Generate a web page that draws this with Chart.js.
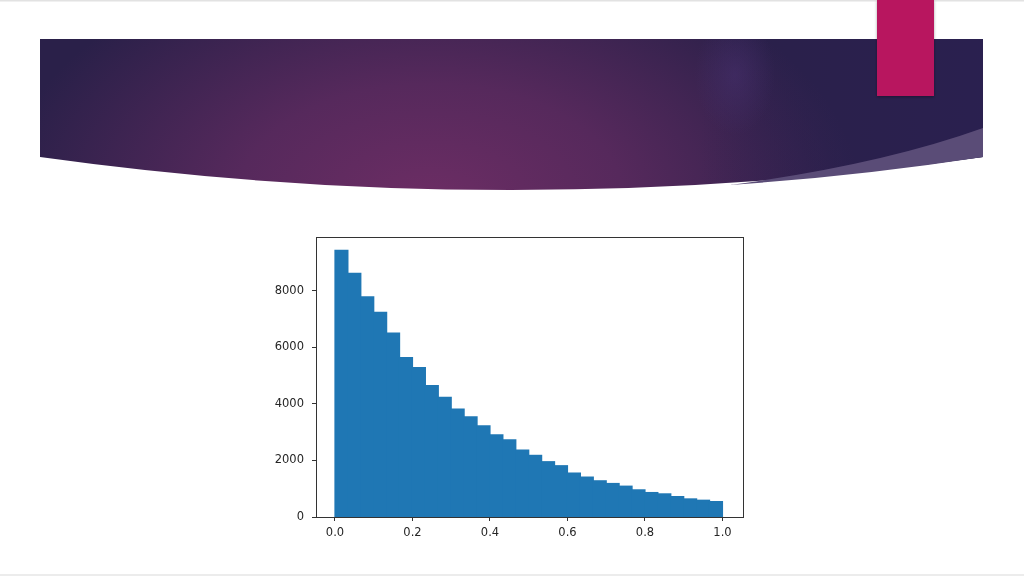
<!DOCTYPE html>
<html>
<head>
<meta charset="utf-8">
<script src="https://cdn.jsdelivr.net/npm/chart.js@4/dist/chart.umd.min.js"></script>
<style>
  html, body { margin:0; padding:0; background:#ffffff; }
  #slide { position:relative; width:1024px; height:576px; overflow:hidden; background:#fff; }
  #deco { position:absolute; left:0; top:0; }
  #wrap { position:absolute; left:0; top:0; width:1024px; height:576px; }
</style>
</head>
<body>
<div id="slide">
  <svg id="deco" width="1024" height="576" viewBox="0 0 1024 576">
    <defs>
      <radialGradient id="bg1" cx="430" cy="200" r="430" gradientUnits="userSpaceOnUse" gradientTransform="translate(430 200) scale(1 0.6) translate(-430 -200)">
        <stop offset="0" stop-color="#6c2d64"/>
        <stop offset="0.45" stop-color="#56295c"/>
        <stop offset="1" stop-color="#2a2049"/>
      </radialGradient>
      <radialGradient id="glow" cx="735" cy="75" r="50" gradientUnits="userSpaceOnUse" gradientTransform="translate(735 75) scale(0.8 1.2) translate(-735 -75)">
        <stop offset="0" stop-color="#47306e" stop-opacity="0.55"/>
        <stop offset="1" stop-color="#47306e" stop-opacity="0"/>
      </radialGradient>
      <linearGradient id="rightdark" x1="700" y1="0" x2="983" y2="0" gradientUnits="userSpaceOnUse">
        <stop offset="0" stop-color="#2a2050" stop-opacity="0"/>
        <stop offset="1" stop-color="#2a2050" stop-opacity="0.9"/>
      </linearGradient>
      <filter id="sh" x="-20%" y="-20%" width="140%" height="140%">
        <feDropShadow dx="0" dy="1" stdDeviation="1.5" flood-color="#000" flood-opacity="0.35"/>
      </filter>
    </defs>
    <rect x="0" y="0" width="1024" height="1.5" fill="#e2e2e2"/>
    <rect x="0" y="574" width="1024" height="2" fill="#ececec"/>
    <path d="M40 39 L983 39 L983 157 Q512 223 40 157 Z" fill="url(#bg1)"/>
    <path d="M40 39 L983 39 L983 157 Q512 223 40 157 Z" fill="url(#rightdark)"/>
    <path d="M40 39 L983 39 L983 157 Q512 223 40 157 Z" fill="url(#glow)"/>
    <path d="M730 185 Q880 165 983 128 L983 157 Q860 176 730 185 Z" fill="#5a4c77"/>
    <rect x="877" y="0" width="57" height="96" fill="#b8135f" filter="url(#sh)"/>
  </svg>
  <div id="wrap"><canvas id="c" width="1024" height="576"></canvas></div>
</div>
<script>
const binEdges = [0.0,0.0333,0.0667,0.1,0.1333,0.1667,0.2,0.2333,0.2667,0.3,0.3333,0.3667,0.4,0.4333,0.4667,0.5,0.5333,0.5667,0.6,0.6333,0.6667,0.7,0.7333,0.7667,0.8,0.8333,0.8667,0.9,0.9333,0.9667,1.0];
const counts = [9425,8608,7780,7236,6501,5638,5282,4643,4227,3812,3541,3222,2902,2725,2365,2178,1954,1812,1552,1410,1279,1184,1089,959,864,817,722,639,592,545];
const xTicks = [0.0,0.2,0.4,0.6,0.8,1.0];
const yTicks = [0,2000,4000,6000,8000];

const points = counts.map((v,i)=>({x:(binEdges[i]+binEdges[i+1])/2, y:v}));
const yMax = Math.max(...counts)*1.05;

const boxPlugin = {
  id:'box',
  afterDraw(chart){
    const {ctx, chartArea:a} = chart;
    ctx.save();
    ctx.strokeStyle = '#333333';
    ctx.lineWidth = 1;
    ctx.strokeRect(Math.round(a.left)+0.5, Math.round(a.top)+0.5, Math.round(a.right-a.left), Math.round(a.bottom-a.top));
    ctx.restore();
  }
};

Chart.defaults.font.family = '"DejaVu Sans", sans-serif';
Chart.defaults.font.size = 11.5;
Chart.defaults.color = '#262626';

new Chart(document.getElementById('c'), {
  type:'bar',
  data:{ datasets:[{ data:points, backgroundColor:'#1f77b4', borderWidth:0, inflateAmount:0.6, barPercentage:1.0, categoryPercentage:1.0, grouped:false }] },
  options:{
    responsive:false,
    animation:false,
    layout:{ padding:{ left:256, right:281, top:237, bottom:29 } },
    plugins:{ legend:{display:false}, tooltip:{enabled:false} },
    scales:{
      x:{
        type:'linear', min:-0.049, max:1.053, offset:false,
        afterBuildTicks(s){ s.ticks = xTicks.map(v=>({value:v})); },
        afterFit(s){ s.height = 30; },
        ticks:{ callback:v=>Number(v).toFixed(1), padding:5, maxRotation:0, autoSkip:false },
        grid:{ display:true, offset:false, drawOnChartArea:false, drawTicks:true, tickLength:4, color:'#333333' },
        border:{ display:true, color:'#333333' }
      },
      y:{
        type:'linear', min:0, max:yMax,
        afterBuildTicks(s){ s.ticks = yTicks.map(v=>({value:v})); },
        afterFit(s){ s.width = 60; },
        ticks:{ callback:v=>String(v), padding:8, autoSkip:false },
        grid:{ display:true, offset:false, drawOnChartArea:false, drawTicks:true, tickLength:4, color:'#333333' },
        border:{ display:true, color:'#333333' }
      }
    }
  },
  plugins:[boxPlugin]
});
</script>
</body>
</html>
